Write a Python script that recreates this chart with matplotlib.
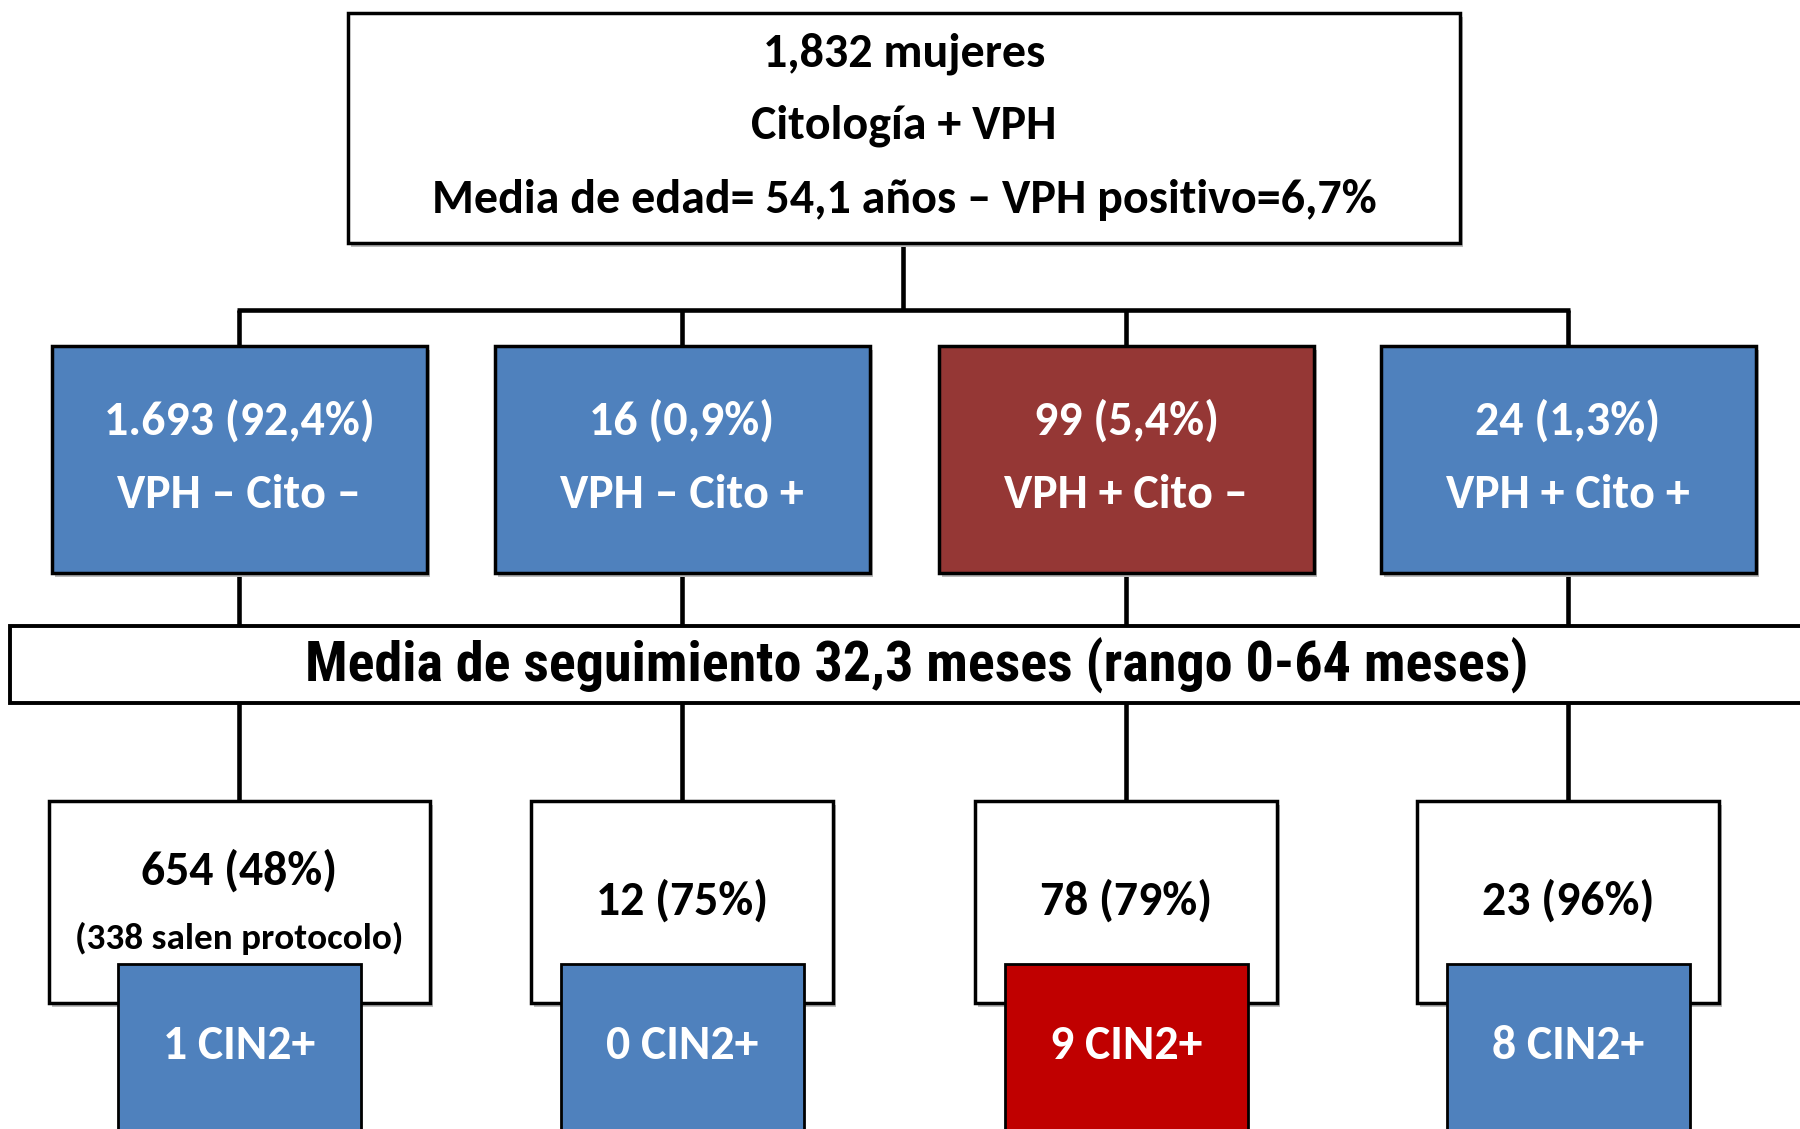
import matplotlib
matplotlib.use("Agg")
import matplotlib.pyplot as plt
from matplotlib.patches import Rectangle
from matplotlib import font_manager

# ---------------- data ----------------
top_lines = ["1,832 mujeres", "Citología + VPH",
             "Media de edad= 54,1 años – VPH positivo=6,7%"]
group_counts = ["1.693 (92,4%)", "16 (0,9%)", "99 (5,4%)", "24 (1,3%)"]
group_labels = ["VPH – Cito –", "VPH – Cito +", "VPH + Cito –", "VPH + Cito +"]
group_colors = ["#4F81BD", "#4F81BD", "#953735", "#4F81BD"]
followup_text = "Media de seguimiento 32,3 meses (rango 0-64 meses)"
followed = ["654 (48%)", "12 (75%)", "78 (79%)", "23 (96%)"]
followed_note = ["(338 salen protocolo)", "", "", ""]
cin2 = ["1 CIN2+", "0 CIN2+", "9 CIN2+", "8 CIN2+"]
cin2_colors = ["#4F81BD", "#4F81BD", "#C00000", "#4F81BD"]


def pick(cands):
    bold = {f.name for f in font_manager.fontManager.ttflist
            if (f.weight if isinstance(f.weight, int) else 400) >= 700
            or f.weight in ("bold", "heavy", "black")}
    for c in cands:
        if c in bold:
            return c
    return "DejaVu Sans"


CAL = pick(["Carlito", "Calibri", "Source Sans 3", "Source Sans Pro",
            "PT Sans", "Lato", "Open Sans"])
NAR = pick(["Liberation Sans Narrow", "Arial Narrow", "Roboto Condensed",
            "Fira Sans Condensed", "Pragati Narrow", "PT Sans Narrow",
            "Archivo Narrow", "Liberation Sans"])

W, H = 1800, 1129
fig = plt.figure(figsize=(18, 11.29), dpi=100)
ax = fig.add_axes([0, 0, 1, 1])
ax.set_xlim(0, W)
ax.set_ylim(H, 0)
ax.axis("off")
renderer = fig.canvas.get_renderer()


def fit_size(text, width, family):
    t = ax.text(0, 0, text, fontsize=20, family=family, weight="bold")
    w = t.get_window_extent(renderer).width
    t.remove()
    return 20 * width / w


def box(x0, y0, x1, y1, fc, lw=2.5, z=2, shadow=True):
    if shadow:
        ax.add_patch(Rectangle((x0 + 3, y0 + 4), x1 - x0, y1 - y0,
                               fc="#BBBBBB", ec="none", zorder=z - 0.5))
    ax.add_patch(Rectangle((x0, y0), x1 - x0, y1 - y0, fc=fc, ec="black",
                           lw=lw, zorder=z))


def line(xs, ys, lw=3.3):
    ax.plot(xs, ys, color="black", lw=lw, solid_capstyle="butt", zorder=1)


centers = [239, 682, 1126, 1568]

# font sizes fitted to reference widths
s_top = fit_size(top_lines[2], 943, CAL)
s_mid = fit_size(group_counts[0], 271, CAL)
s_follow = fit_size(followup_text, 1220, NAR)
s_bot = fit_size(followed[0], 197, CAL)
s_note = fit_size(followed_note[0], 328, CAL)
s_cin = fit_size(cin2[0], 152, CAL)

# ---------------- top box ----------------
box(348, 13, 1460, 243, "white")
for txt, y in zip(top_lines, [54, 126, 200]):
    ax.text(904, y, txt, ha="center", va="center", fontsize=s_top,
            family=CAL, weight="bold", color="black", zorder=5)

# connectors top -> groups
line([903, 903], [243, 310])
line([centers[0] - 1.6, centers[-1] + 1.6], [310, 310])
for c in centers:
    line([c, c], [310, 346])

# ---------------- group boxes ----------------
half_mid = 187.5
for c, cnt, lab, col in zip(centers, group_counts, group_labels, group_colors):
    box(c - half_mid, 346, c + half_mid, 573, col)
    ax.text(c, 421, cnt, ha="center", va="center", fontsize=s_mid,
            family=CAL, weight="bold", color="white", zorder=5)
    ax.text(c, 495, lab, ha="center", va="center", fontsize=s_mid,
            family=CAL, weight="bold", color="white", zorder=5)
    line([c, c], [573, 626])
    line([c, c], [703, 801])

# ---------------- follow-up band ----------------
box(10, 626, 1830, 703, "white", lw=2.8, shadow=False)
ax.text(917, 666, followup_text, ha="center", va="center", fontsize=s_follow,
        family=NAR, weight="bold", color="black", zorder=5)

# ---------------- bottom boxes ----------------
for c, f, note, cn, cc in zip(centers, followed, followed_note, cin2,
                              cin2_colors):
    half_w = 190.5 if note else 151
    box(c - half_w, 801, c + half_w, 1003, "white", z=2)
    if note:
        ax.text(c, 871, f, ha="center", va="center", fontsize=s_bot,
                family=CAL, weight="bold", color="black", zorder=5)
        ax.text(c, 938, note, ha="center", va="center", fontsize=s_note,
                family=CAL, weight="bold", color="black", zorder=5)
    else:
        ax.text(c, 901, f, ha="center", va="center", fontsize=s_bot,
                family=CAL, weight="bold", color="black", zorder=5)
    ax.add_patch(Rectangle((c - 121.5, 964), 243, 200, fc=cc, ec="black",
                           lw=2.0, zorder=3))
    ax.text(c, 1046, cn, ha="center", va="center", fontsize=s_cin,
            family=CAL, weight="bold", color="white", zorder=5)

fig.savefig("out.png", dpi=100, facecolor="white")
